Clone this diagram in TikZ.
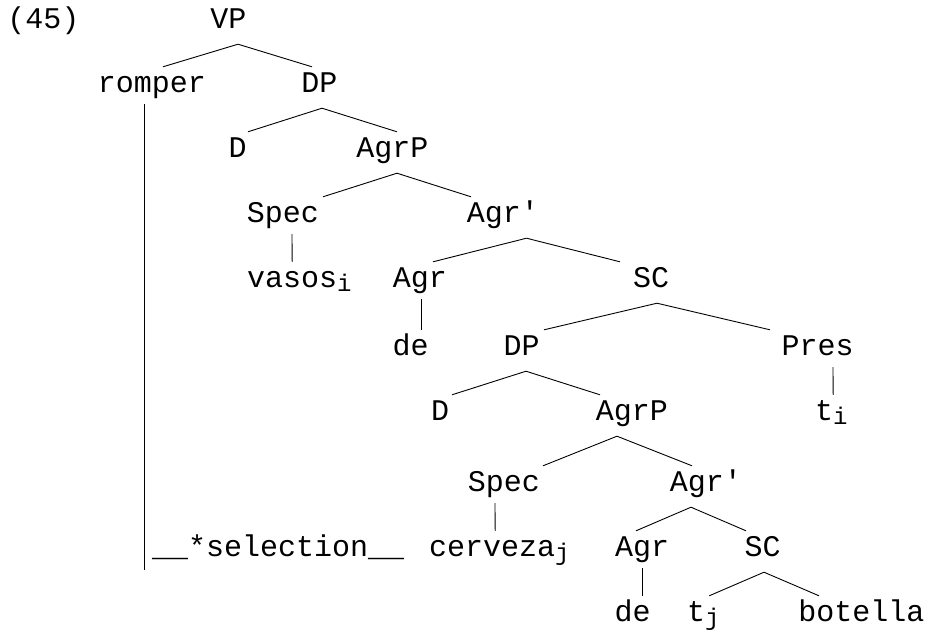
\documentclass[tikz,border=0pt]{standalone}
\usepackage{fontspec}
\setmainfont{Liberation Mono}
\newcommand{\idx}[1]{\raisebox{-4pt}{\fontsize{24pt}{24pt}\selectfont #1}}

\begin{document}
\begin{tikzpicture}[x=1pt,y=-1pt,
  word/.style={anchor=base,inner sep=0pt,text height=25pt,text depth=16pt,
    font=\fontsize{30pt}{30pt}\selectfont},
  branch/.style={line width=0.9pt},
  stem/.style={line width=0.9pt,shorten <=-4pt}]
\useasboundingbox (0,0) rectangle (930,632);

\node[word] (ex) at (43.5,28) {(45)};
\node[word] (vp) at (228.5,28) {VP};
\node[word] (romper) at (152,92) {romper};
\node[word] (dp1) at (319.5,92) {DP};
\node[word] (d1) at (237.5,157) {D};
\node[word] (agrp1) at (392.5,157) {AgrP};
\node[word] (spec1) at (283,222) {Spec};
\node[word] (agrbar1) at (503,222) {Agr\textquotesingle};
\node[word,anchor=base west] (vasos) at (247,287) {vasos\idx{i}};
\node[word] (agr1) at (420,287) {Agr};
\node[word] (sc1) at (651,287) {SC};
\node[word] (de1) at (410.5,355) {de};
\node[word] (dp2) at (521.5,355) {DP};
\node[word] (pres) at (817.5,355) {Pres};
\node[word] (d2) at (440,420) {D};
\node[word] (agrp2) at (632,420) {AgrP};
\node[word,anchor=base west] (ti) at (815,420) {t\idx{i}};
\node[word] (spec2) at (504,491) {Spec};
\node[word] (agrbar2) at (706,491) {Agr\textquotesingle};
\node[word,anchor=base west] (sel) at (152,556) {\_\_*selection\_\_};
\node[word,anchor=base west] (cerveza) at (429,556) {cerveza\idx{j}};
\node[word] (agr2) at (642,556) {Agr};
\node[word] (sc2) at (762.5,556) {SC};
\node[word] (de2) at (632.5,621) {de};
\node[word,anchor=base west] (tj) at (687,621) {t\idx{j}};
\node[word] (botella) at (861.5,621) {botella};
\coordinate (selbar) at (144,570);

\draw[branch] ([xshift=9.5pt]vp.south) -- ([xshift=11pt]romper.north);
\draw[branch] ([xshift=9.5pt]vp.south) -- ([xshift=-7.5pt]dp1.north);
\draw[branch] ([xshift=2.5pt]dp1.south) -- ([xshift=10.5pt]d1.north);
\draw[branch] ([xshift=2.5pt]dp1.south) -- ([xshift=4.5pt]agrp1.north);
\draw[branch] ([xshift=4.5pt]agrp1.south) -- ([xshift=40pt]spec1.north);
\draw[branch] ([xshift=4.5pt]agrp1.south) -- ([xshift=-32pt]agrbar1.north);
\draw[stem] ([xshift=9pt]spec1.south) -- ([xshift=-7.2pt]vasos.north);
\draw[branch] ([xshift=23.5pt]agrbar1.south) -- ([xshift=13pt]agr1.north);
\draw[branch] ([xshift=23.5pt]agrbar1.south) -- ([xshift=-31pt]sc1.north);
\draw[stem] ([xshift=1pt]agr1.south) -- ([xshift=10.5pt]de1.north);
\draw[branch] ([xshift=6pt]sc1.south) -- ([xshift=22.5pt]dp2.north);
\draw[branch] ([xshift=6pt]sc1.south) -- ([xshift=-47.5pt]pres.north);
\draw[branch] ([xshift=4.5pt]dp2.south) -- ([xshift=12pt]d2.north);
\draw[branch] ([xshift=4.5pt]dp2.south) -- ([xshift=-32pt]agrp2.north);
\draw[stem] ([xshift=15.5pt]pres.south) -- ([xshift=1.8pt]ti.north);
\draw[branch] ([xshift=-15pt]agrp2.south) -- ([xshift=39pt]spec2.north);
\draw[branch] ([xshift=-15pt]agrp2.south) -- ([xshift=-14pt]agrbar2.north);
\draw[stem] ([xshift=-9pt]spec2.south) -- ([xshift=-4.2pt]cerveza.north);
\draw[branch] ([xshift=-15pt]agrbar2.south) -- ([xshift=-6pt]agr2.north);
\draw[branch] ([xshift=-15pt]agrbar2.south) -- ([xshift=-16.5pt]sc2.north);
\draw[stem] (agr2.south) -- ([xshift=9.5pt]de2.north);
\draw[branch] ([xshift=1.5pt]sc2.south) -- ([xshift=5.8pt]tj.north);
\draw[branch] ([xshift=1.5pt]sc2.south) -- ([xshift=-42.5pt]botella.north);
\draw[stem] ([xshift=-8pt]romper.south) -- (selbar);

\end{tikzpicture}
\end{document}
